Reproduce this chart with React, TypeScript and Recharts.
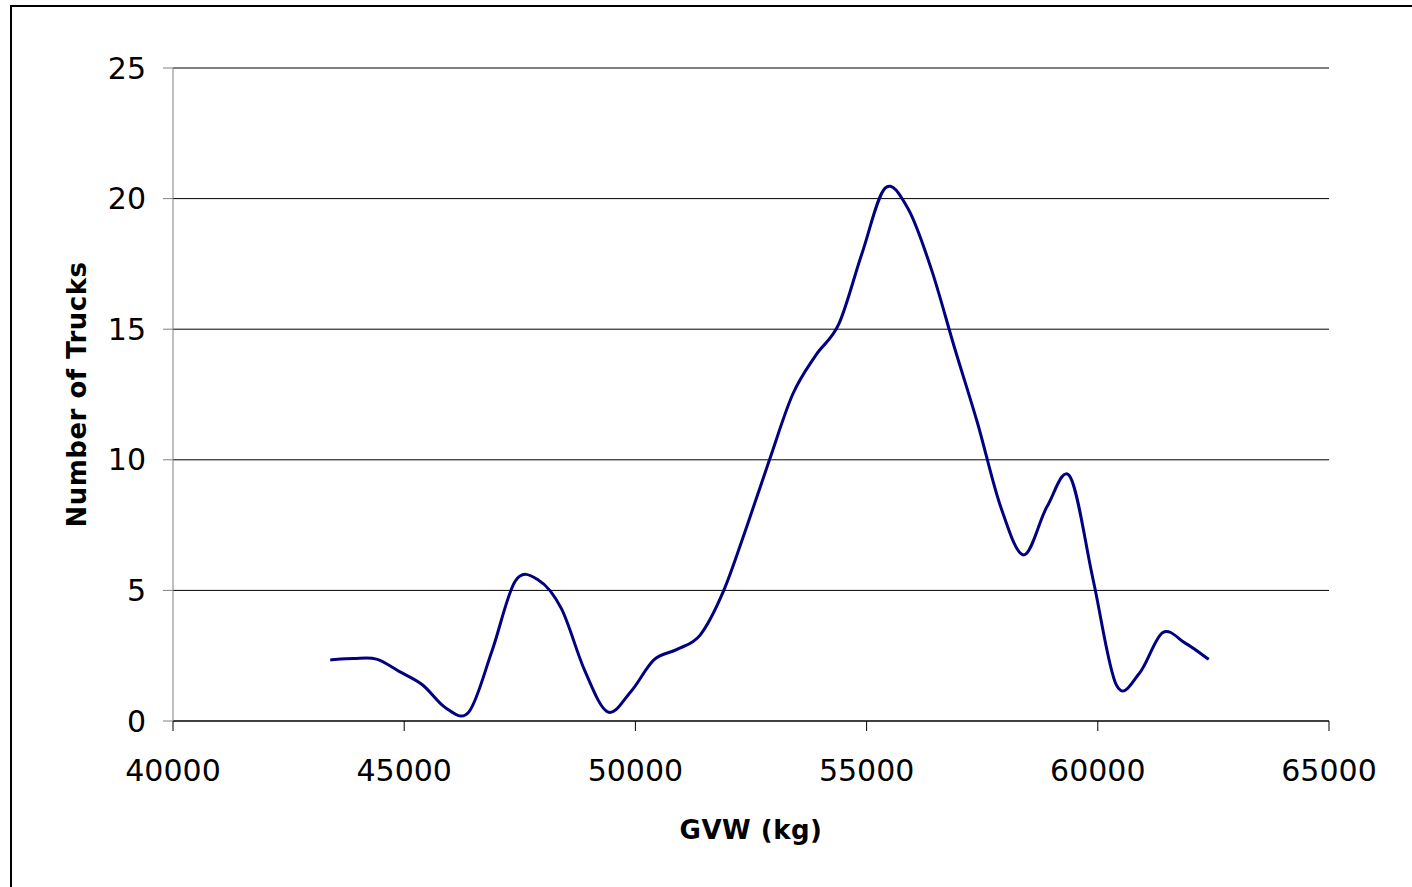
import React from 'react';
import { LineChart, Line, XAxis, YAxis, CartesianGrid, Label } from 'recharts';

// GVW bins (kg) and truck counts
const gvw = [
  43400, 43900, 44400, 44900, 45400, 45900, 46400, 46900, 47400, 47900,
  48400, 48900, 49400, 49900, 50400, 50900, 51400, 51900, 52400, 52900,
  53400, 53900, 54400, 54900, 55400, 55900, 56400, 56900, 57400, 57900,
  58400, 58900, 59400, 59900, 60400, 60900, 61400, 61900, 62400,
];
const trucks = [
  2.34, 2.39, 2.37, 1.89, 1.38, 0.5, 0.35, 2.69, 5.35, 5.4,
  4.3, 1.95, 0.35, 1.12, 2.34, 2.74, 3.29, 4.95, 7.4, 10.0,
  12.5, 14.0, 15.2, 17.9, 20.4, 19.6, 17.3, 14.3, 11.4, 8.2,
  6.36, 8.2, 9.35, 5.4, 1.38, 1.83, 3.38, 2.97, 2.36,
];
const xTicks = [40000, 45000, 50000, 55000, 60000, 65000];
const yTicks = [0, 5, 10, 15, 20, 25];

const data = gvw.map((g, i) => ({ gvw: g, trucks: trucks[i] }));

const font = 'DejaVu Sans';

// Excel style smoothed line (Catmull-Rom through the points)
const excelSmooth = (context: any) => {
  let xs: number[] = [];
  let ys: number[] = [];
  return {
    areaStart() {},
    areaEnd() {},
    lineStart() {
      xs = [];
      ys = [];
    },
    point(x: number, y: number) {
      xs.push(+x);
      ys.push(+y);
    },
    lineEnd() {
      const n = xs.length;
      if (!n) return;
      context.moveTo(xs[0], ys[0]);
      for (let i = 0; i < n - 1; i++) {
        const a = Math.max(i - 1, 0);
        const d = Math.min(i + 2, n - 1);
        context.bezierCurveTo(
          xs[i] + (xs[i + 1] - xs[a]) / 6,
          ys[i] + (ys[i + 1] - ys[a]) / 6,
          xs[i + 1] - (xs[d] - xs[i]) / 6,
          ys[i + 1] - (ys[d] - ys[i]) / 6,
          xs[i + 1],
          ys[i + 1]
        );
      }
    },
  };
};

const App = () => {
  return (
    <div style={{ position: 'absolute', left: 0, top: 0, width: 1412, height: 887, background: '#fff', overflow: 'hidden' }}>
      <div
        style={{
          position: 'absolute',
          left: 10,
          top: 5,
          width: 1500,
          height: 1000,
          borderTop: '2px solid #000',
          borderLeft: '2px solid #000',
        }}
      />
      <div style={{ position: 'absolute', left: 0, top: 0 }}>
        <LineChart width={1412} height={887} data={data} margin={{ top: 68, right: 83, bottom: 43, left: 73 }}>
          <CartesianGrid horizontal vertical={false} stroke="#000" strokeWidth={1} />
          <XAxis
            dataKey="gvw"
            type="number"
            domain={[40000, 65000]}
            ticks={xTicks}
            interval={0}
            allowDataOverflow
            height={123}
            tickSize={10}
            tickMargin={29}
            axisLine={{ stroke: '#000' }}
            tickLine={{ stroke: '#000' }}
            tick={{ fill: '#000', fontSize: 30, fontFamily: font }}
          >
            <Label
              value="GVW (kg)"
              position="insideBottom"
              offset={5}
              style={{ fontFamily: font, fontSize: 26, fontWeight: 'bold', fill: '#000', letterSpacing: 0.5 }}
            />
          </XAxis>
          <YAxis
            type="number"
            domain={[0, 25]}
            ticks={yTicks}
            interval={0}
            allowDataOverflow
            width={100}
            tickSize={10}
            tickMargin={17}
            axisLine={{ stroke: '#808080' }}
            tickLine={{ stroke: '#808080' }}
            tick={{ fill: '#000', fontSize: 30, fontFamily: font }}
          >
            <Label
              value="Number of Trucks"
              position="insideLeft"
              angle={-90}
              offset={4}
              style={{ textAnchor: 'middle', fontFamily: font, fontSize: 26, fontWeight: 'bold', fill: '#000', letterSpacing: 0.5 }}
            />
          </YAxis>
          <Line
            dataKey="trucks"
            type={excelSmooth as any}
            stroke="#000080"
            strokeWidth={3}
            dot={false}
            activeDot={false}
            isAnimationActive={false}
          />
        </LineChart>
      </div>
    </div>
  );
};

export default App;
